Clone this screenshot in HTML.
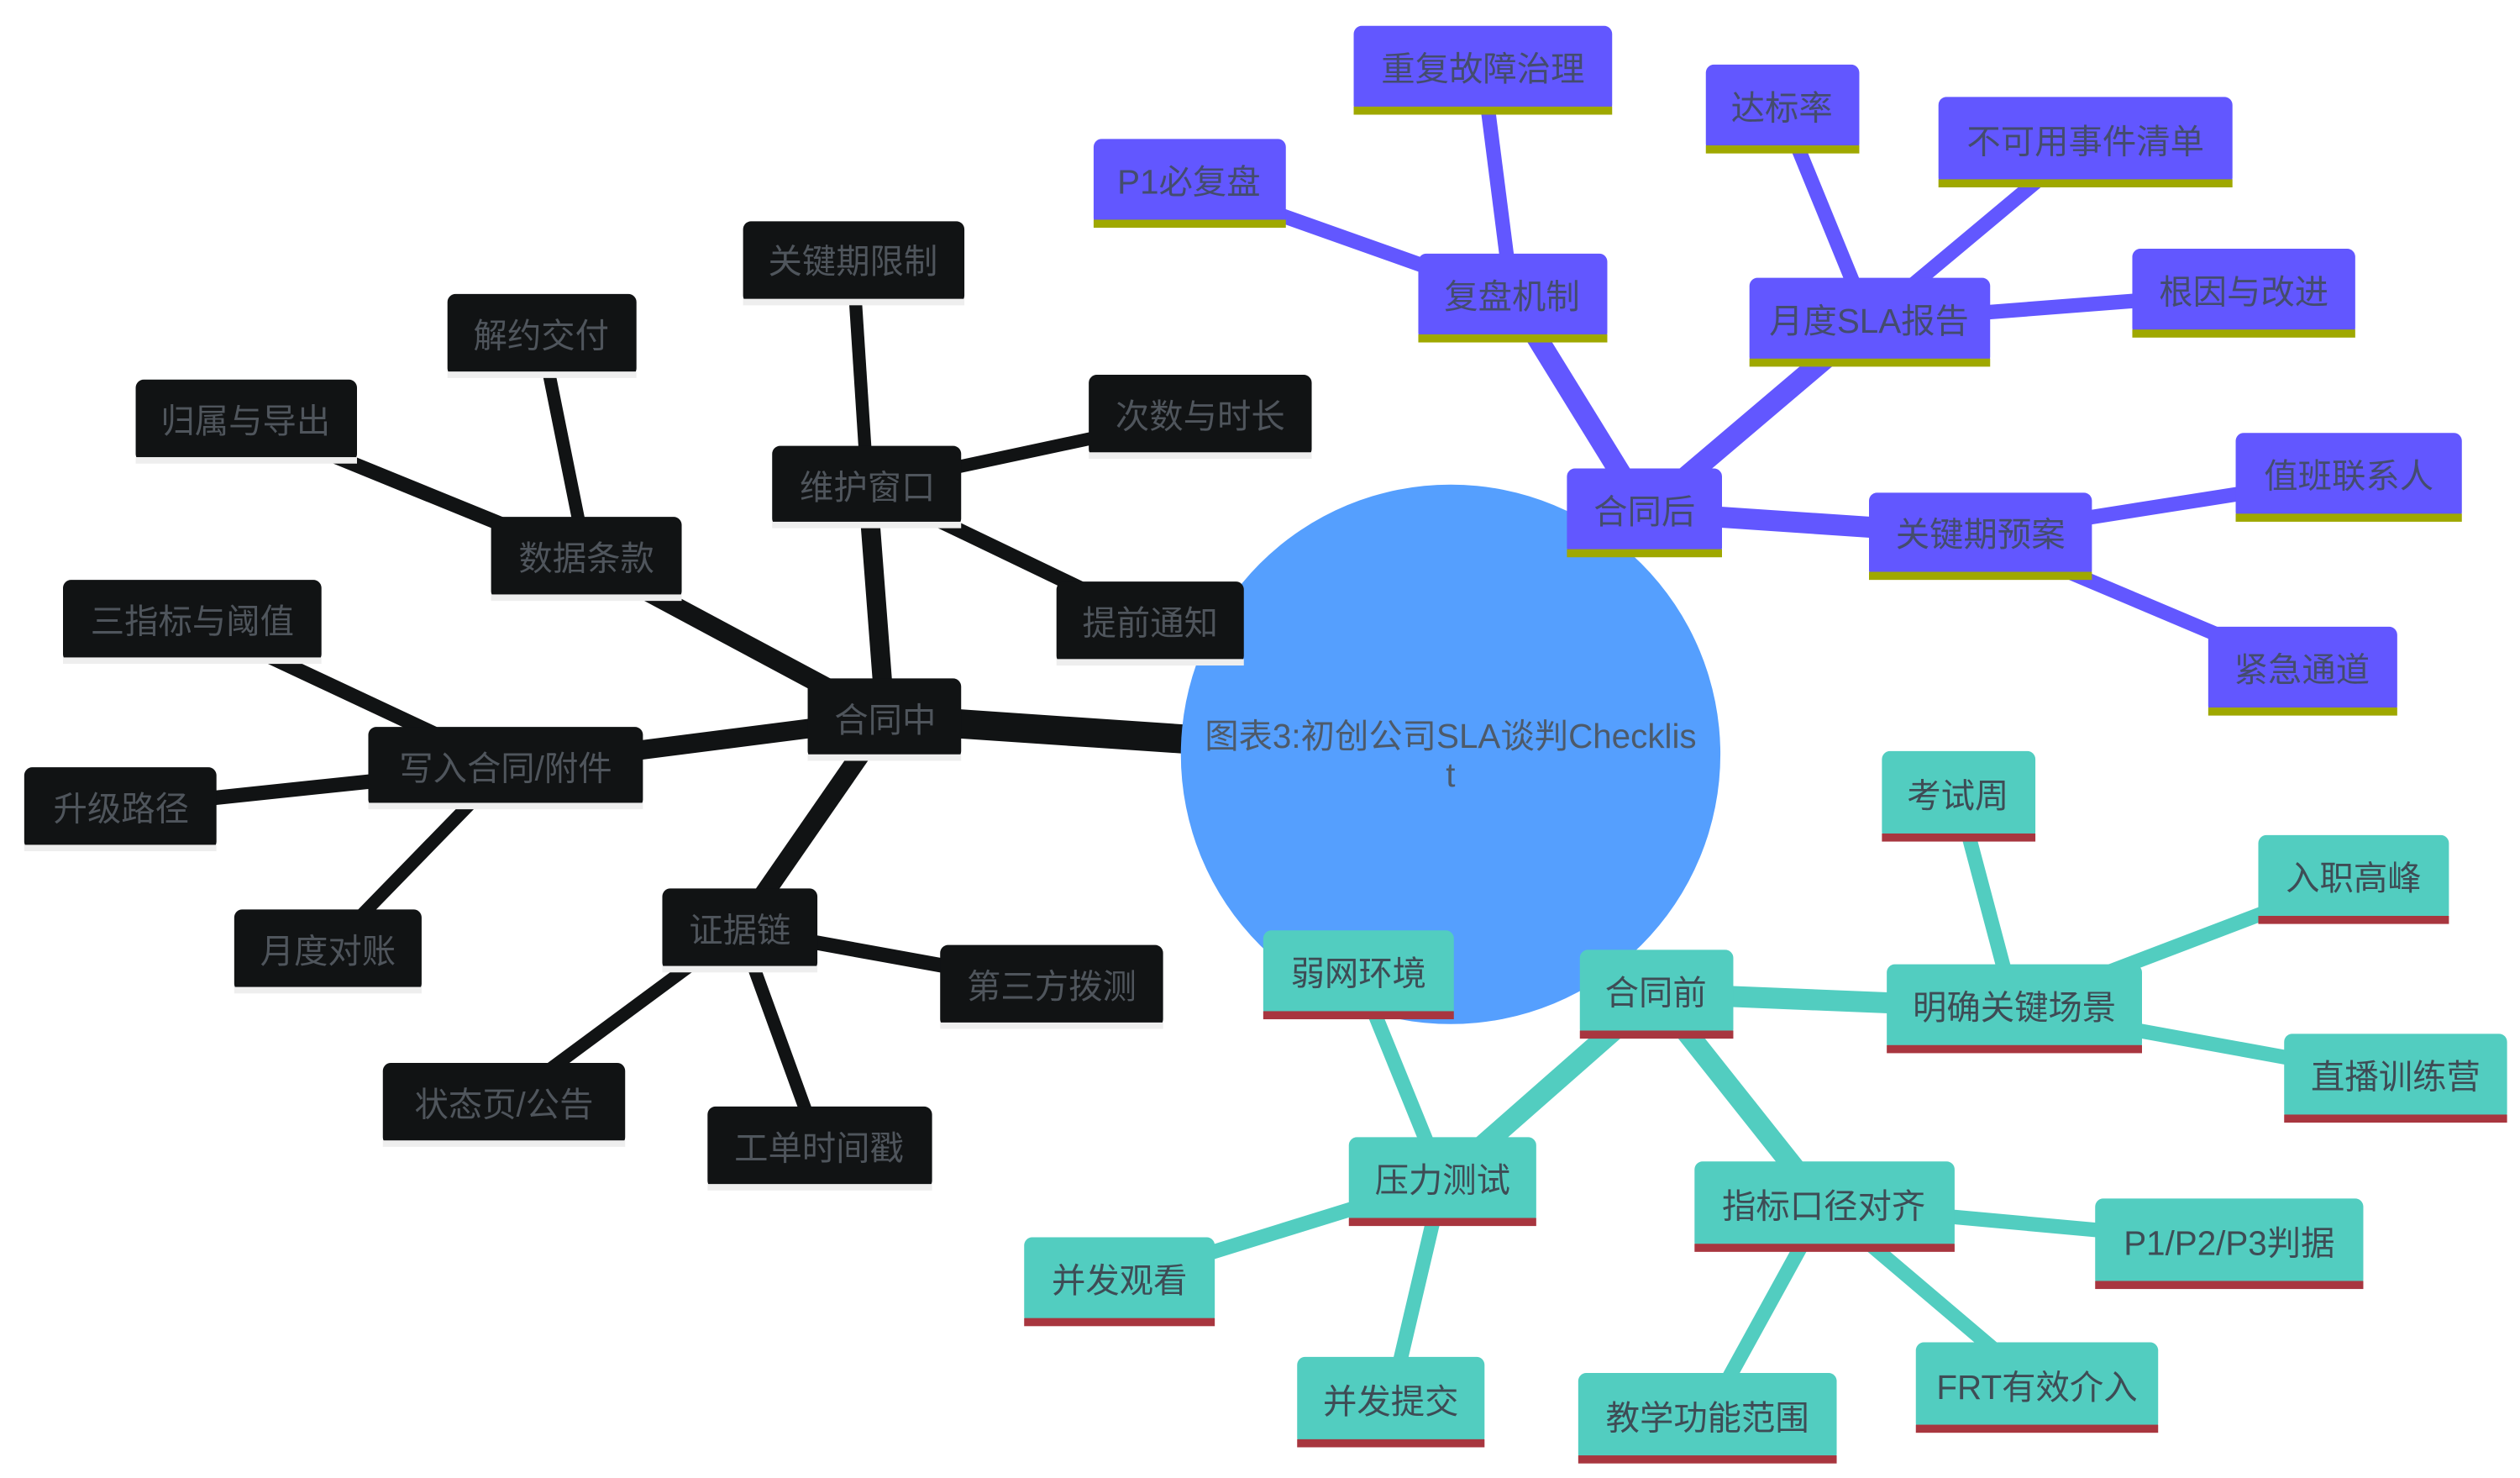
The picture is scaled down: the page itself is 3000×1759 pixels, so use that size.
<!DOCTYPE html>
<html><head><meta charset="utf-8"><style>
html,body{margin:0;padding:0;background:#fff;width:3000px;height:1759px;overflow:hidden}
svg{display:block}
text{font-family:"Liberation Sans","Noto Sans CJK SC",sans-serif;font-size:21px;text-anchor:middle}
.k rect.b{fill:#111314}.k rect.u{fill:#eeeeee}.k text{fill:#4f555c}
.p rect.b{fill:#6257ff}.p rect.u{fill:#9fa800}.p text{fill:#444c6e}
.t rect.b{fill:#52cdc0}.t rect.u{fill:#a8363f}.t text{fill:#3e4c55}
</style></head><body>
<svg width="3000" height="1759" viewBox="0 0 1560 915" preserveAspectRatio="none" xmlns="http://www.w3.org/2000/svg">
<g stroke-linecap="butt">
<g stroke="#111314">
<line x1="740" y1="458" x2="548" y2="445" stroke-width="18"/>
<line x1="548" y1="445" x2="363" y2="346" stroke-width="12"/>
<line x1="548" y1="445" x2="537" y2="301" stroke-width="12"/>
<line x1="548" y1="445" x2="313" y2="475" stroke-width="12"/>
<line x1="548" y1="445" x2="458" y2="575" stroke-width="12"/>
<line x1="363" y1="346" x2="152" y2="260" stroke-width="9"/>
<line x1="363" y1="346" x2="335" y2="207" stroke-width="8"/>
<line x1="537" y1="301" x2="528" y2="162" stroke-width="8"/>
<line x1="537" y1="301" x2="743" y2="257" stroke-width="8"/>
<line x1="537" y1="301" x2="712" y2="385" stroke-width="9"/>
<line x1="313" y1="475" x2="119" y2="384" stroke-width="9"/>
<line x1="313" y1="475" x2="75" y2="500" stroke-width="9"/>
<line x1="313" y1="475" x2="203" y2="588" stroke-width="8"/>
<line x1="458" y1="575" x2="651" y2="610" stroke-width="9"/>
<line x1="458" y1="575" x2="312" y2="683" stroke-width="8"/>
<line x1="458" y1="575" x2="507" y2="710" stroke-width="8"/>
</g>
<g stroke="#6257ff">
<line x1="898" y1="467" x2="1018" y2="317" stroke-width="16"/>
<line x1="1018" y1="317" x2="936" y2="184" stroke-width="13"/>
<line x1="1018" y1="317" x2="1157" y2="199" stroke-width="13"/>
<line x1="1018" y1="317" x2="1226" y2="331" stroke-width="13"/>
<line x1="936" y1="184" x2="918" y2="43" stroke-width="9"/>
<line x1="936" y1="184" x2="736" y2="113" stroke-width="9"/>
<line x1="1157" y1="199" x2="1103" y2="67" stroke-width="9"/>
<line x1="1157" y1="199" x2="1291" y2="87" stroke-width="9"/>
<line x1="1157" y1="199" x2="1389" y2="181" stroke-width="9"/>
<line x1="1226" y1="331" x2="1454" y2="295" stroke-width="9"/>
<line x1="1226" y1="331" x2="1425" y2="415" stroke-width="9"/>
</g>
<g stroke="#52cdc0">
<line x1="898" y1="467" x2="1025" y2="615" stroke-width="16"/>
<line x1="1025" y1="615" x2="1247" y2="624" stroke-width="13"/>
<line x1="1025" y1="615" x2="893" y2="731" stroke-width="13"/>
<line x1="1025" y1="615" x2="1129" y2="746" stroke-width="13"/>
<line x1="1247" y1="624" x2="1212" y2="492" stroke-width="9"/>
<line x1="1247" y1="624" x2="1457" y2="544" stroke-width="9"/>
<line x1="1247" y1="624" x2="1483" y2="667" stroke-width="9"/>
<line x1="893" y1="731" x2="841" y2="603" stroke-width="9"/>
<line x1="893" y1="731" x2="693" y2="793" stroke-width="9"/>
<line x1="893" y1="731" x2="861" y2="867" stroke-width="9"/>
<line x1="1129" y1="746" x2="1380" y2="769" stroke-width="9"/>
<line x1="1129" y1="746" x2="1057" y2="877" stroke-width="9"/>
<line x1="1129" y1="746" x2="1261" y2="858" stroke-width="9"/>
</g>
</g>
<ellipse cx="898" cy="467" rx="167" ry="167" fill="#559ffe"/>
<text x="898" y="463" fill="#4d5a6a">图表3:初创公司SLA谈判Checklis</text>
<text x="898" y="487" fill="#4d5a6a">t</text>

<g class="k">
<g><rect class="b" x="460" y="137" width="137" height="51" rx="5"/><rect class="u" x="460" y="185" width="137" height="4"/><text x="528" y="169">关键期限制</text></g>
<g><rect class="b" x="277" y="182" width="117" height="51" rx="5"/><rect class="u" x="277" y="230" width="117" height="4"/><text x="335" y="215">解约交付</text></g>
<g><rect class="b" x="84" y="235" width="137" height="51" rx="5"/><rect class="u" x="84" y="283" width="137" height="4"/><text x="152" y="268">归属与导出</text></g>
<g><rect class="b" x="304" y="320" width="118" height="51" rx="5"/><rect class="u" x="304" y="368" width="118" height="4"/><text x="363" y="353">数据条款</text></g>
<g><rect class="b" x="478" y="276" width="117" height="50" rx="5"/><rect class="u" x="478" y="323" width="117" height="4"/><text x="537" y="309">维护窗口</text></g>
<g><rect class="b" x="674" y="232" width="138" height="51" rx="5"/><rect class="u" x="674" y="280" width="138" height="4"/><text x="743" y="265">次数与时长</text></g>
<g><rect class="b" x="654" y="360" width="116" height="51" rx="5"/><rect class="u" x="654" y="408" width="116" height="4"/><text x="712" y="393">提前通知</text></g>
<g><rect class="b" x="39" y="359" width="160" height="51" rx="5"/><rect class="u" x="39" y="407" width="160" height="4"/><text x="119" y="392">三指标与阈值</text></g>
<g><rect class="b" x="500" y="420" width="95" height="50" rx="5"/><rect class="u" x="500" y="467" width="95" height="4"/><text x="548" y="453">合同中</text></g>
<g><rect class="b" x="228" y="450" width="170" height="50" rx="5"/><rect class="u" x="228" y="497" width="170" height="4"/><text x="313" y="483">写入合同/附件</text></g>
<g><rect class="b" x="15" y="475" width="119" height="51" rx="5"/><rect class="u" x="15" y="523" width="119" height="4"/><text x="75" y="508">升级路径</text></g>
<g><rect class="b" x="145" y="563" width="116" height="51" rx="5"/><rect class="u" x="145" y="611" width="116" height="4"/><text x="203" y="596">月度对账</text></g>
<g><rect class="b" x="410" y="550" width="96" height="51" rx="5"/><rect class="u" x="410" y="598" width="96" height="4"/><text x="458" y="583">证据链</text></g>
<g><rect class="b" x="582" y="585" width="138" height="51" rx="5"/><rect class="u" x="582" y="633" width="138" height="4"/><text x="651" y="618">第三方拨测</text></g>
<g><rect class="b" x="237" y="658" width="150" height="51" rx="5"/><rect class="u" x="237" y="706" width="150" height="4"/><text x="312" y="691">状态页/公告</text></g>
<g><rect class="b" x="438" y="685" width="139" height="51" rx="5"/><rect class="u" x="438" y="733" width="139" height="4"/><text x="507" y="718">工单时间戳</text></g>
</g>

<g class="p">
<g><rect class="b" x="838" y="16" width="160" height="54" rx="5"/><rect class="u" x="838" y="66" width="160" height="5"/><text x="918" y="50">重复故障治理</text></g>
<g><rect class="b" x="677" y="86" width="119" height="54" rx="5"/><rect class="u" x="677" y="136" width="119" height="5"/><text x="736" y="120">P1必复盘</text></g>
<g><rect class="b" x="1056" y="40" width="95" height="54" rx="5"/><rect class="u" x="1056" y="90" width="95" height="5"/><text x="1103" y="74">达标率</text></g>
<g><rect class="b" x="1200" y="60" width="182" height="55" rx="5"/><rect class="u" x="1200" y="111" width="182" height="5"/><text x="1291" y="95">不可用事件清单</text></g>
<g><rect class="b" x="878" y="157" width="117" height="54" rx="5"/><rect class="u" x="878" y="207" width="117" height="5"/><text x="936" y="191">复盘机制</text></g>
<g><rect class="b" x="1083" y="172" width="149" height="54" rx="5"/><rect class="u" x="1083" y="222" width="149" height="5"/><text x="1157" y="206">月度SLA报告</text></g>
<g><rect class="b" x="1320" y="154" width="138" height="54" rx="5"/><rect class="u" x="1320" y="204" width="138" height="5"/><text x="1389" y="188">根因与改进</text></g>
<g><rect class="b" x="970" y="290" width="96" height="54" rx="5"/><rect class="u" x="970" y="340" width="96" height="5"/><text x="1018" y="324">合同后</text></g>
<g><rect class="b" x="1157" y="305" width="138" height="53" rx="5"/><rect class="u" x="1157" y="354" width="138" height="5"/><text x="1226" y="338">关键期预案</text></g>
<g><rect class="b" x="1384" y="268" width="140" height="54" rx="5"/><rect class="u" x="1384" y="318" width="140" height="5"/><text x="1454" y="302">值班联系人</text></g>
<g><rect class="b" x="1367" y="388" width="117" height="54" rx="5"/><rect class="u" x="1367" y="438" width="117" height="5"/><text x="1425" y="422">紧急通道</text></g>
</g>

<g class="t">
<g><rect class="b" x="1165" y="465" width="95" height="55" rx="5"/><rect class="u" x="1165" y="516" width="95" height="5"/><text x="1212" y="500">考试周</text></g>
<g><rect class="b" x="1398" y="517" width="118" height="54" rx="5"/><rect class="u" x="1398" y="567" width="118" height="5"/><text x="1457" y="551">入职高峰</text></g>
<g><rect class="b" x="1168" y="597" width="158" height="54" rx="5"/><rect class="u" x="1168" y="647" width="158" height="5"/><text x="1247" y="631">明确关键场景</text></g>
<g><rect class="b" x="1414" y="640" width="138" height="54" rx="5"/><rect class="u" x="1414" y="690" width="138" height="5"/><text x="1483" y="674">直播训练营</text></g>
<g><rect class="b" x="782" y="576" width="118" height="54" rx="5"/><rect class="u" x="782" y="626" width="118" height="5"/><text x="841" y="610">弱网环境</text></g>
<g><rect class="b" x="978" y="588" width="95" height="54" rx="5"/><rect class="u" x="978" y="638" width="95" height="5"/><text x="1025" y="622">合同前</text></g>
<g><rect class="b" x="835" y="704" width="116" height="54" rx="5"/><rect class="u" x="835" y="754" width="116" height="5"/><text x="893" y="738">压力测试</text></g>
<g><rect class="b" x="1049" y="719" width="161" height="55" rx="5"/><rect class="u" x="1049" y="770" width="161" height="5"/><text x="1129" y="754">指标口径对齐</text></g>
<g><rect class="b" x="1297" y="742" width="166" height="55" rx="5"/><rect class="u" x="1297" y="793" width="166" height="5"/><text x="1380" y="777">P1/P2/P3判据</text></g>
<g><rect class="b" x="634" y="766" width="118" height="54" rx="5"/><rect class="u" x="634" y="816" width="118" height="5"/><text x="693" y="800">并发观看</text></g>
<g><rect class="b" x="803" y="840" width="116" height="55" rx="5"/><rect class="u" x="803" y="891" width="116" height="5"/><text x="861" y="875">并发提交</text></g>
<g><rect class="b" x="977" y="850" width="160" height="55" rx="5"/><rect class="u" x="977" y="901" width="160" height="5"/><text x="1057" y="885">教学功能范围</text></g>
<g><rect class="b" x="1186" y="831" width="150" height="55" rx="5"/><rect class="u" x="1186" y="882" width="150" height="5"/><text x="1261" y="866">FRT有效介入</text></g>
</g>
</svg>
</body></html>
